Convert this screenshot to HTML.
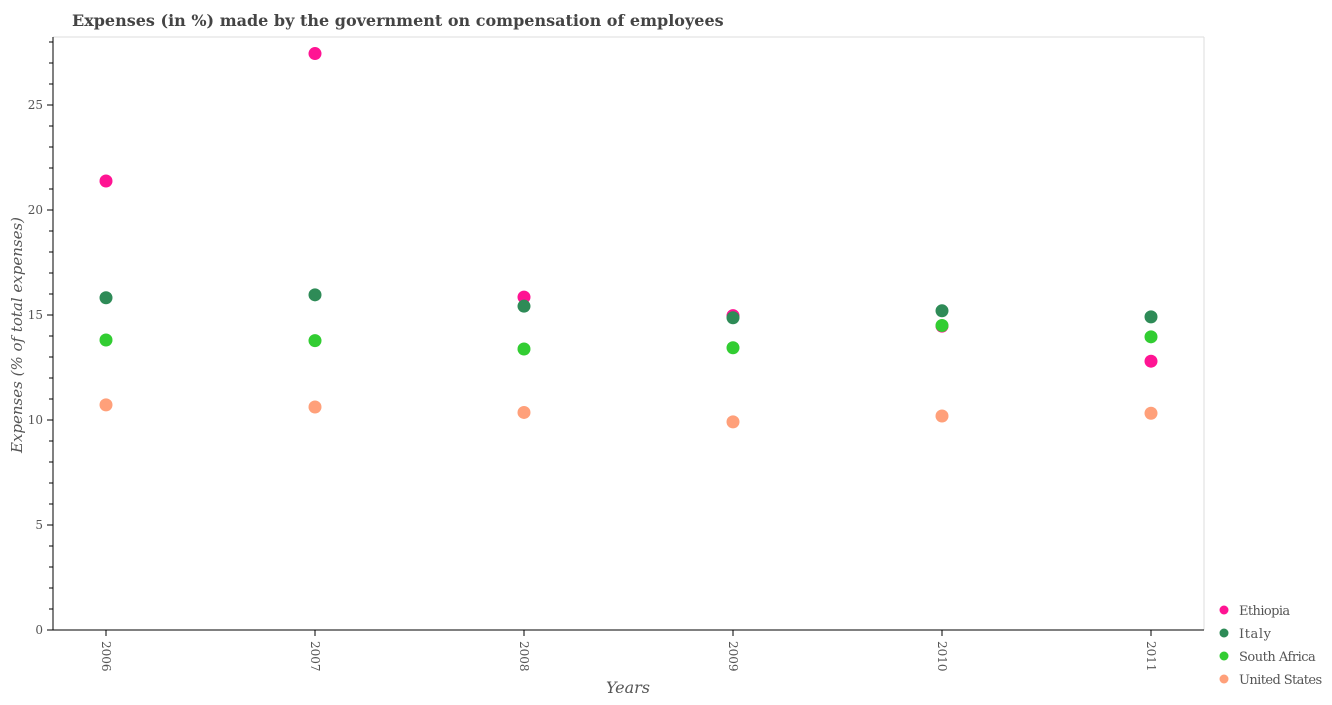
<!DOCTYPE html>
<html><head><meta charset="utf-8"><style>
body{margin:0;background:#fff;}
svg text{font-family:"DejaVu Serif","Liberation Serif",serif;}
</style></head><body>
<svg id="chart" width="1332" height="700" xmlns="http://www.w3.org/2000/svg">
<text x="72" y="26" font-size="16" font-weight="bold" fill="#444">Expenses (in %) made by the government on compensation of employees</text>
<line x1="53" y1="37" x2="1204" y2="37" stroke="#ddd"/>
<line x1="1204" y1="37" x2="1204" y2="630" stroke="#ddd"/>
<g id="axes"></g>
<g id="marks"></g>
<g id="legend"></g>
<text transform="translate(22,335) rotate(-90)" text-anchor="middle" font-size="15" font-style="italic" fill="#555">Expenses (% of total expenses)</text>
<text x="628" y="693" text-anchor="middle" font-size="16" font-style="italic" fill="#555">Years</text>
</svg>
<script>
const years=["2006","2007","2008","2009","2010","2011"];
const seriesNames=["Ethiopia","Italy","South Africa","United States"];
const ethiopia=[21.38,27.45,15.85,14.97,14.47,12.8];
const italy=[15.82,15.96,15.42,14.87,15.2,14.91];
const southAfrica=[13.81,13.78,13.38,13.44,14.5,13.96];
const unitedStates=[10.72,10.62,10.36,9.91,10.19,10.32];
const yTicks=[0,5,10,15,20,25];
const colors=["#ff1493","#2e8b57","#32cd32","#ffa07a"];
const NS="http://www.w3.org/2000/svg";
function xs(i){return 106+i*209;}
function ys(v){return 630-v*21;}
function mk(t,a){const e=document.createElementNS(NS,t);for(const k in a)e.setAttribute(k,a[k]);return e;}
const axes=document.getElementById('axes');
let l=mk('line',{x1:53,y1:37,x2:53,y2:630,stroke:'#000'});


axes.appendChild(l);
l=mk('line',{x1:53,y1:630,x2:1204,y2:630,stroke:'#000'});


axes.appendChild(l);
for(let v=0;v<=28;v++){
  const major=v%5===0;
  const t=mk('line',{x1:major?47:49,y1:ys(v),x2:53,y2:ys(v),stroke:'#000'});
  
  
  axes.appendChild(t);
}
yTicks.forEach(v=>{
  const t=mk('text',{x:43,y:ys(v)+4,'text-anchor':'end','font-size':'12',fill:'#555'});
  t.textContent=v;
  
  
  axes.appendChild(t);
});
years.forEach((y,i)=>{
  const t=mk('line',{x1:xs(i),y1:630,x2:xs(i),y2:636,stroke:'#000'});
  
  
  axes.appendChild(t);
  const tx=mk('text',{transform:`translate(${xs(i)-4},641) rotate(90)`,'font-size':'12',fill:'#555'});
  tx.textContent=y;
  
  
  axes.appendChild(tx);
});
const marks=document.getElementById('marks');
[ethiopia,italy,southAfrica,unitedStates].forEach((s,si)=>{
  s.forEach((v,i)=>{
    const c=mk('circle',{cx:xs(i),cy:ys(v),r:6.5,fill:colors[si]});
    
    
    marks.appendChild(c);
  });
});
const leg=document.getElementById('legend');
seriesNames.forEach((n,i)=>{
  const y=610+i*23;
  const c=mk('circle',{cx:1224,cy:y,r:4.5,fill:colors[i]});
  
  
  leg.appendChild(c);
  const t=mk('text',{x:1239,y:y+5,'font-size':'13',fill:'#555','textLength':n.length*6.4});
  t.textContent=n;
  
  
  leg.appendChild(t);
});
</script>
</body></html>
